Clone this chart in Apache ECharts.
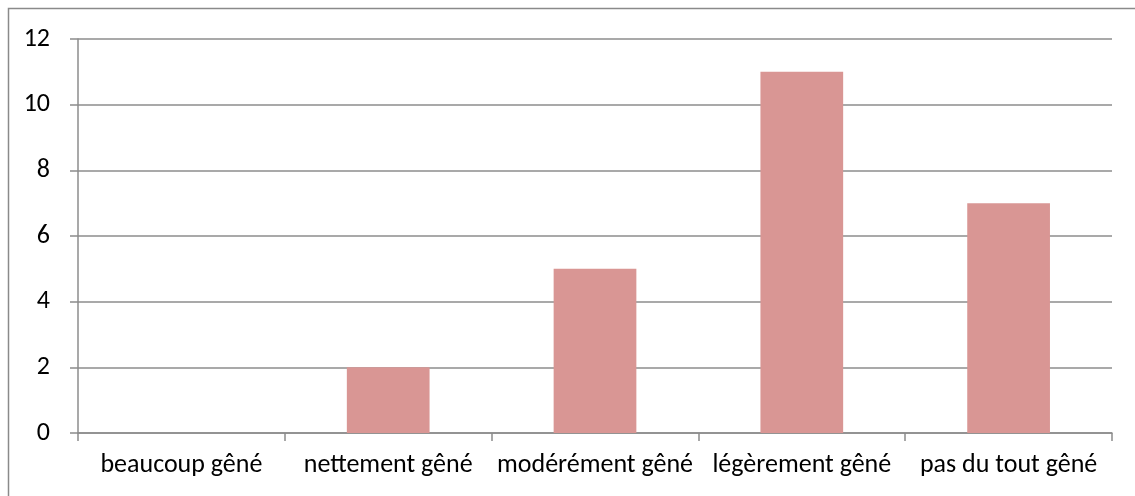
<!DOCTYPE html>
<html>
<head>
<meta charset="utf-8">
<style>
  html, body { margin: 0; padding: 0; background: #fff; }
  #chart { width: 1135px; height: 496px; }
</style>
<script src="https://cdn.jsdelivr.net/npm/echarts@6/dist/echarts.min.js"></script>
</head>
<body>
<div id="chart"></div>
<script>
const categories = ['beaucoup gêné', 'nettement gêné', 'modérément gêné', 'légèrement gêné', 'pas du tout gêné'];
const counts = [0, 2, 5, 11, 7];

const axisGray = '#8c8c8c';
const fontFamily = 'Carlito, Lato, "Liberation Sans", sans-serif';

const chart = echarts.init(document.getElementById('chart'), null, { renderer: 'canvas' });
chart.setOption({
  animation: false,
  backgroundColor: '#fff',
  graphic: [{
    type: 'rect',
    shape: { x: 8.5, y: 8.5, width: 1140, height: 500 },
    style: { fill: 'none', stroke: '#8a8a8a', lineWidth: 1.5 },
    silent: true
  }],
  grid: { left: 78, right: 23, top: 39, bottom: 63 },
  xAxis: {
    type: 'category',
    data: categories,
    axisLine: { lineStyle: { color: axisGray, width: 1.5 } },
    axisTick: { show: true, interval: 0, alignWithLabel: false, length: 8, lineStyle: { color: axisGray, width: 1.5 } },
    axisLabel: { color: '#000', fontFamily, fontSize: 26, interval: 0, hideOverlap: false, margin: 19 }
  },
  yAxis: {
    type: 'value',
    min: 0, max: 12, interval: 2,
    axisLine: { show: true, lineStyle: { color: axisGray, width: 1.5 } },
    axisTick: { show: true, length: 8, lineStyle: { color: axisGray, width: 1.5 } },
    splitLine: { lineStyle: { color: axisGray, width: 1.5 } },
    axisLabel: { color: '#000', fontFamily, fontSize: 26, margin: 28 }
  },
  series: [{
    type: 'bar',
    data: counts,
    barWidth: '40%',
    itemStyle: { color: '#d99694' }
  }]
});
</script>
</body>
</html>
